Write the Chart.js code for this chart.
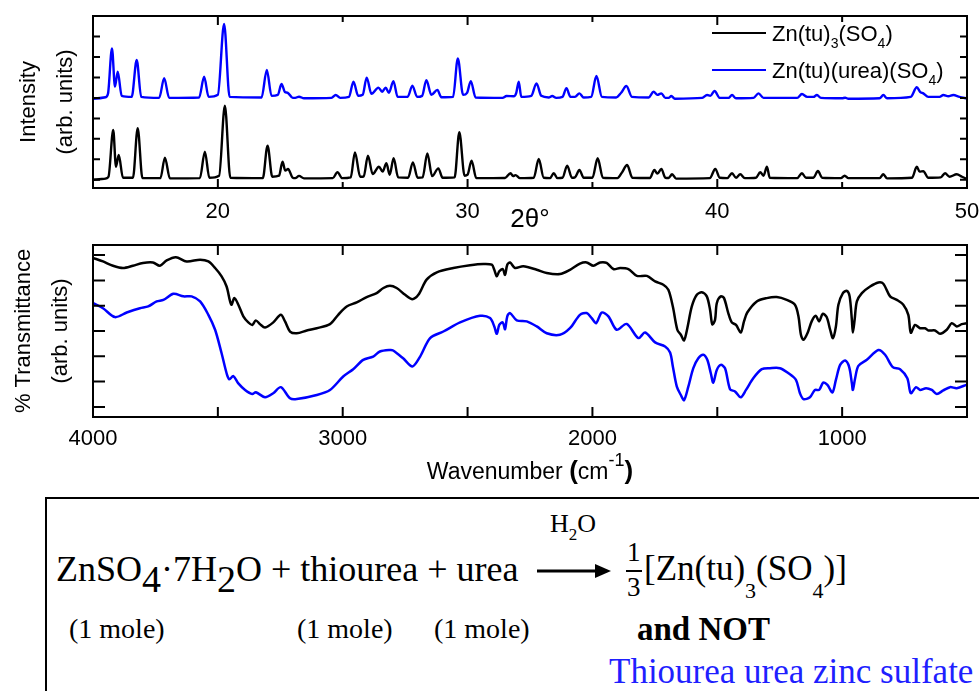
<!DOCTYPE html>
<html>
<head>
<meta charset="utf-8">
<script src="https://cdn.jsdelivr.net/npm/chart.js@4.4.1/dist/chart.umd.min.js"></script>
<style>
  html, body { margin: 0; padding: 0; background: #fff; }
  body { width: 979px; height: 691px; position: relative; overflow: hidden; font-family: 'Liberation Sans', Arial, sans-serif; }
  canvas { position: absolute; left: 0; }
  #xrdChart { top: 0; }
  #irChart { top: 230px; }
  .abs { position: absolute; white-space: nowrap; }
  .legend-line { position: absolute; height: 2px; width: 54px; }
  .legend-text { font-size: 22px; line-height: 22px; color: #000; }
  .legend-text sub { font-size: 14px; vertical-align: baseline; position: relative; top: 7px; }
  #irTitle { left: 93px; width: 874px; top: 457px; text-align: center; font-size: 23px; line-height: 26px; color: #000; }
  #irTitle b { font-size: 26px; }
  #irTitle .sup { font-size: 18px; position: relative; top: -13px; }
  #reaction { position: absolute; left: 45px; top: 497px; width: 1000px; height: 300px; border: 2px solid #000; box-sizing: border-box; }
  .serif { font-family: 'Liberation Serif', 'Times New Roman', serif; color: #000; }
  .bigsub { font-size: 38px; position: relative; top: 11px; }
  .lowsub { font-size: 22px; position: relative; top: 18px; }
</style>
</head>
<body>
<canvas id="xrdChart" width="979" height="240"></canvas>
<canvas id="irChart" width="979" height="260"></canvas>

<div class="legend-line" style="left:712px;top:32px;background:#000"></div>
<div class="abs legend-text" style="left:772px;top:23px">Zn(tu)<sub>3</sub>(SO<sub>4</sub>)</div>
<div class="legend-line" style="left:712px;top:69px;background:#0000ff"></div>
<div class="abs legend-text" style="left:772px;top:60px">Zn(tu)(urea)(SO<sub>4</sub>)</div>

<div id="irTitle" class="abs">Wavenumber <b>(</b>cm<span class="sup">-1</span><b>)</b></div>

<div id="reaction"></div>
<div class="abs serif" style="left:550px;top:511px;font-size:26px;line-height:26px">H<span style="font-size:17px;position:relative;top:8px">2</span>O</div>
<div class="abs serif" style="left:56px;top:550px;font-size:36px;line-height:36px">ZnSO<span class="bigsub">4</span>·7H<span class="bigsub">2</span>O + thiourea + urea</div>
<svg class="abs" style="left:535px;top:562px" width="78" height="18">
  <line x1="2" y1="9" x2="62" y2="9" stroke="#000" stroke-width="3"/>
  <polygon points="60,2 76,9 60,16" fill="#000"/>
</svg>
<div class="abs serif" style="left:627px;top:539px;font-size:27px;line-height:27px">1</div>
<div class="abs" style="left:626px;top:570px;width:16px;height:2px;background:#000"></div>
<div class="abs serif" style="left:627px;top:574px;font-size:27px;line-height:27px">3</div>
<div class="abs serif" style="left:644px;top:551px;font-size:35px;line-height:35px">[Zn(tu)<span class="lowsub">3</span>(SO<span class="lowsub">4</span>)]</div>
<div class="abs serif" style="left:69px;top:615px;font-size:28px;line-height:28px">(1 mole)</div>
<div class="abs serif" style="left:297px;top:615px;font-size:28px;line-height:28px">(1 mole)</div>
<div class="abs serif" style="left:434px;top:615px;font-size:28px;line-height:28px">(1 mole)</div>
<div class="abs serif" style="left:637px;top:613px;font-size:33px;line-height:33px;font-weight:bold">and NOT</div>
<div class="abs serif" style="left:609px;top:654px;font-size:35px;line-height:35px;color:#1f1fff">Thiourea urea zinc sulfate</div>

<script>
const seriesLabels = ['Zn(tu)3(SO4)', 'Zn(tu)(urea)(SO4)'];

const xrdTicks = [20, 25, 30, 35, 40, 45, 50];
const xrdYTicks = [4, 14, 24, 34, 44, 54, 64, 74, 84];
const irTicks = [4000, 3500, 3000, 2500, 2000, 1500, 1000, 500];
const irYTicks = [4, 14, 24, 34, 44, 54, 64];

// [2theta, intensity]
const xrdTu3 = [
  [15.0, 4.0], [15.5, 4.6], [15.62, 5.5], [15.81, 28.3], [15.92, 10.4], [16.03, 16.1], [16.2, 5.0],
  [16.6, 5.0], [16.79, 29.2], [16.98, 4.8], [17.7, 4.8], [17.88, 14.8], [18.08, 4.7], [19.28, 4.8],
  [19.48, 17.7], [19.66, 5.0], [20.05, 6.0], [20.28, 40.2], [20.5, 5.0], [21.8, 4.8], [21.99, 20.7],
  [22.18, 5.5], [22.45, 6.0], [22.59, 12.8], [22.7, 8.5], [22.81, 9.3], [23.0, 5.0], [23.1, 4.8],
  [23.25, 5.9], [23.45, 4.7], [24.6, 4.8], [24.79, 7.7], [24.98, 4.8], [25.32, 5.2], [25.49, 17.4],
  [25.7, 5.5], [25.84, 5.6], [26.01, 15.8], [26.2, 6.8], [26.45, 10.4], [26.6, 8.0], [26.75, 12.1],
  [26.88, 6.5], [27.04, 14.5], [27.22, 5.2], [27.62, 5.0], [27.81, 12.5], [28.0, 5.0], [28.2, 5.2],
  [28.39, 16.9], [28.58, 5.8], [28.83, 9.6], [29.0, 5.0], [29.48, 5.2], [29.67, 27.2], [29.88, 6.0],
  [30.0, 6.5], [30.16, 13.3], [30.35, 4.8], [31.5, 4.9], [31.72, 7.2], [31.82, 5.8], [31.92, 6.3],
  [32.1, 4.8], [32.65, 5.0], [32.85, 14.2], [33.05, 5.0], [33.3, 4.8], [33.45, 7.2], [33.6, 4.8],
  [33.8, 5.0], [33.99, 10.9], [34.18, 5.0], [34.3, 5.2], [34.48, 8.8], [34.65, 5.0], [35.0, 5.0],
  [35.21, 14.5], [35.42, 5.0], [36.0, 4.8], [36.18, 7.5], [36.39, 11.2], [36.6, 5.0], [37.3, 4.9],
  [37.48, 8.8], [37.6, 7.0], [37.76, 9.3], [37.92, 5.0], [38.05, 4.9], [38.19, 6.7], [38.35, 4.6],
  [39.7, 4.8], [39.92, 9.3], [40.1, 5.0], [40.4, 4.8], [40.59, 7.2], [40.75, 5.0], [40.92, 6.7],
  [41.1, 4.8], [41.55, 5.0], [41.72, 7.7], [41.85, 6.0], [41.99, 10.4], [42.1, 5.0], [43.2, 4.8],
  [43.39, 7.2], [43.55, 5.0], [43.85, 5.0], [44.03, 8.3], [44.2, 5.0], [44.95, 4.8], [45.1, 6.0],
  [45.25, 4.8], [46.5, 4.8], [46.65, 6.7], [46.8, 4.7], [47.8, 5.0], [47.99, 10.4], [48.1, 8.0],
  [48.25, 8.2], [48.45, 5.0], [48.95, 5.2], [49.12, 7.2], [49.3, 5.5], [49.59, 6.7], [49.8, 5.5],
  [50.0, 4.4]
];

const xrdTuUrea = [
  [15.0, 43.6], [15.5, 44.3], [15.6, 46.0], [15.76, 68.2], [15.88, 49.5], [15.99, 56.8], [16.15, 45.0],
  [16.55, 44.5], [16.75, 62.5], [16.93, 44.5], [17.65, 44.0], [17.85, 53.6], [18.05, 44.0], [19.25, 44.2],
  [19.45, 54.3], [19.63, 44.5], [20.0, 45.5], [20.25, 80.1], [20.47, 44.5], [21.75, 44.2], [21.96, 57.6],
  [22.15, 45.0], [22.4, 45.5], [22.55, 50.8], [22.68, 47.0], [22.8, 46.5], [23.0, 44.0], [23.1, 44.0],
  [23.25, 44.6], [23.45, 43.8], [24.55, 44.0], [24.72, 45.4], [24.9, 44.0], [25.25, 44.5], [25.43, 51.9],
  [25.62, 45.0], [25.8, 45.5], [25.96, 53.9], [26.15, 46.0], [26.43, 49.0], [26.58, 47.0], [26.72, 49.0],
  [26.85, 46.5], [27.03, 52.2], [27.2, 44.5], [27.6, 44.5], [27.79, 50.0], [27.98, 44.5], [28.18, 45.0],
  [28.35, 52.7], [28.55, 45.5], [28.79, 47.9], [28.95, 44.3], [29.42, 44.5], [29.61, 63.3], [29.82, 45.5],
  [29.98, 46.5], [30.13, 52.2], [30.32, 44.2], [31.4, 44.0], [31.56, 44.9], [31.85, 44.8], [31.95, 46.5],
  [32.05, 51.9], [32.15, 44.5], [32.55, 45.0], [32.76, 51.1], [32.95, 45.0], [33.25, 44.2], [33.39, 44.9],
  [33.55, 44.0], [33.8, 44.5], [33.96, 48.7], [34.12, 44.5], [34.3, 44.5], [34.48, 46.2], [34.65, 44.2],
  [34.95, 44.5], [35.16, 54.7], [35.38, 44.5], [35.95, 44.2], [36.15, 46.5], [36.36, 49.8], [36.58, 44.5],
  [37.25, 44.2], [37.45, 47.0], [37.6, 45.5], [37.76, 46.2], [37.92, 44.0], [38.05, 44.0], [38.16, 44.9],
  [38.3, 43.6], [39.4, 44.0], [39.59, 45.4], [39.72, 45.0], [39.89, 47.4], [40.1, 44.0], [40.45, 44.0],
  [40.59, 45.4], [40.75, 43.8], [41.45, 44.0], [41.65, 46.2], [41.85, 44.0], [43.2, 44.0], [43.39, 45.9],
  [43.6, 44.5], [43.85, 44.5], [43.99, 45.4], [44.15, 44.0], [45.0, 43.8], [45.12, 44.1], [45.25, 43.6],
  [46.5, 43.8], [46.65, 45.4], [46.8, 43.8], [47.75, 44.5], [47.99, 49.2], [48.12, 47.0], [48.25, 46.2],
  [48.45, 44.5], [48.9, 44.5], [49.05, 45.4], [49.25, 44.8], [49.45, 45.4], [49.7, 44.5], [50.0, 43.7]
];

// [wavenumber, transmittance]
const irTu3 = [
  [4000, 62.9], [3960, 61.5], [3920, 59.8], [3880, 58.9], [3840, 59.8], [3800, 60.9], [3760, 61.1],
  [3732, 59.8], [3705, 61.9], [3668, 63.2], [3625, 61.5], [3571, 62.2], [3538, 61.5], [3511, 58.9],
  [3485, 55.6], [3465, 51.6], [3451, 45.7], [3445, 44.4], [3434, 47.0], [3418, 44.4], [3398, 39.8],
  [3378, 37.4], [3362, 36.4], [3348, 38.2], [3331, 36.7], [3311, 35.4], [3278, 37.4], [3248, 40.4],
  [3231, 37.8], [3211, 33.8], [3184, 33.1], [3144, 34.2], [3104, 35.1], [3051, 36.7], [3018, 40.4],
  [2984, 43.7], [2944, 45.3], [2904, 47.4], [2864, 49.0], [2837, 51.0], [2811, 51.9], [2784, 51.0],
  [2750, 48.3], [2721, 46.6], [2697, 48.3], [2664, 54.3], [2623, 57.2], [2557, 58.9], [2490, 60.0],
  [2437, 60.5], [2403, 60.2], [2393, 58.2], [2383, 55.6], [2373, 57.6], [2359, 58.5], [2350, 56.2],
  [2341, 60.2], [2330, 61.1], [2310, 58.9], [2277, 59.6], [2223, 58.2], [2183, 56.9], [2130, 56.5],
  [2090, 58.2], [2050, 60.6], [2023, 61.1], [1996, 59.8], [1969, 61.1], [1943, 60.9], [1916, 58.5],
  [1889, 58.9], [1856, 58.5], [1822, 55.8], [1782, 55.8], [1749, 53.6], [1716, 52.3], [1696, 50.3],
  [1678, 43.7], [1660, 34.5], [1646, 32.5], [1633, 30.3], [1620, 35.1], [1602, 43.7], [1582, 48.3],
  [1562, 49.3], [1542, 47.7], [1529, 42.4], [1520, 36.6], [1509, 38.4], [1502, 45.0], [1486, 47.7],
  [1473, 47.0], [1456, 41.1], [1442, 37.4], [1425, 36.4], [1406, 33.4], [1393, 37.8], [1380, 41.3],
  [1342, 45.7], [1302, 47.0], [1262, 47.4], [1222, 46.3], [1189, 44.4], [1175, 39.8], [1165, 32.5],
  [1155, 30.5], [1139, 33.1], [1122, 37.8], [1106, 40.0], [1092, 37.8], [1078, 40.8], [1062, 39.5],
  [1048, 34.5], [1037, 31.2], [1025, 35.8], [1015, 44.4], [997, 49.0], [981, 49.9], [970, 47.7],
  [961, 38.4], [957, 33.4], [950, 38.4], [941, 45.7], [921, 49.0], [888, 51.6], [855, 53.2],
  [835, 52.7], [808, 47.7], [781, 46.3], [755, 44.4], [735, 40.4], [725, 33.3], [708, 36.4],
  [688, 35.1], [668, 35.1], [654, 34.2], [628, 34.2], [608, 32.9], [581, 34.5], [561, 37.1],
  [541, 35.8], [521, 36.7], [500, 37.1]
];

const irTuUrea = [
  [4000, 45.0], [3960, 43.0], [3912, 39.5], [3865, 41.3], [3812, 43.0], [3779, 43.7], [3745, 45.7],
  [3718, 46.3], [3678, 48.7], [3638, 47.7], [3605, 47.7], [3571, 45.7], [3538, 40.4], [3511, 34.5],
  [3485, 25.2], [3465, 17.3], [3454, 14.9], [3438, 16.2], [3418, 13.3], [3391, 10.7], [3362, 9.1],
  [3348, 9.8], [3311, 7.8], [3278, 9.4], [3248, 11.8], [3211, 7.4], [3184, 7.1], [3104, 8.7],
  [3051, 10.7], [2998, 16.0], [2958, 18.9], [2918, 22.6], [2878, 23.9], [2851, 25.9], [2811, 26.5],
  [2798, 26.3], [2758, 23.2], [2721, 20.0], [2690, 23.9], [2650, 31.2], [2597, 33.8], [2530, 37.4],
  [2450, 40.0], [2410, 39.1], [2393, 35.8], [2383, 32.9], [2373, 36.4], [2359, 37.4], [2350, 34.7],
  [2341, 39.8], [2330, 41.1], [2303, 38.2], [2263, 37.8], [2223, 35.8], [2183, 33.1], [2130, 32.5],
  [2090, 35.1], [2050, 40.4], [2023, 41.1], [2003, 39.1], [1985, 37.1], [1963, 41.3], [1936, 39.8],
  [1903, 34.5], [1863, 36.8], [1816, 31.2], [1789, 33.4], [1749, 29.5], [1709, 27.9], [1689, 25.5],
  [1678, 20.0], [1662, 12.0], [1646, 8.7], [1633, 6.7], [1616, 12.0], [1596, 19.3], [1576, 23.2],
  [1556, 24.6], [1540, 22.6], [1526, 17.3], [1516, 13.6], [1502, 18.6], [1486, 20.6], [1469, 19.3],
  [1449, 11.0], [1429, 10.1], [1406, 7.8], [1385, 10.7], [1356, 15.3], [1322, 18.9], [1289, 19.3],
  [1249, 19.3], [1215, 17.3], [1185, 14.7], [1169, 9.4], [1155, 7.1], [1129, 7.8], [1109, 10.7],
  [1092, 10.7], [1076, 13.6], [1059, 12.7], [1039, 9.7], [1025, 14.7], [1008, 20.6], [988, 22.3],
  [972, 19.8], [961, 13.3], [957, 10.7], [948, 15.3], [935, 20.2], [901, 22.6], [855, 26.5],
  [828, 24.6], [797, 19.7], [768, 18.9], [739, 15.3], [725, 9.4], [704, 11.8], [688, 10.7],
  [664, 11.4], [641, 10.7], [621, 9.1], [595, 10.5], [568, 11.8], [541, 11.4], [503, 12.7]
];

Chart.defaults.font.family = "'Liberation Sans', Arial, sans-serif";
Chart.defaults.color = '#000';

const toPoints = list => list.map(p => ({ x: p[0], y: p[1] }));

// closed frame with inward ticks on all four sides
const frameTicks = {
  id: 'frameTicks',
  afterDatasetsDraw(chart, args, opts) {
    const { ctx, chartArea: a, scales } = chart;
    ctx.save();
    ctx.strokeStyle = '#000';
    ctx.lineWidth = 2;
    ctx.beginPath();
    scales.x.ticks.forEach(t => {
      const px = scales.x.getPixelForValue(t.value);
      const len = t.value % opts.majorEvery === 0 ? opts.xMajor : opts.xMinor;
      ctx.moveTo(px, a.top);
      ctx.lineTo(px, a.top + len);
      ctx.moveTo(px, a.bottom);
      ctx.lineTo(px, a.bottom - len);
    });
    scales.y.ticks.forEach(t => {
      const py = scales.y.getPixelForValue(t.value);
      ctx.moveTo(a.left, py);
      ctx.lineTo(a.left + opts.yLen, py);
      ctx.moveTo(a.right, py);
      ctx.lineTo(a.right - opts.yLen, py);
    });
    ctx.stroke();
    ctx.strokeRect(a.left, a.top, a.right - a.left, a.bottom - a.top);
    ctx.restore();
  }
};

function makeChart(id, cfg) {
  return new Chart(document.getElementById(id), {
    type: 'line',
    data: {
      datasets: [
        { label: seriesLabels[0], data: toPoints(cfg.black), borderColor: '#000', borderWidth: cfg.lineWidth },
        { label: seriesLabels[1], data: toPoints(cfg.blue), borderColor: '#0000ff', borderWidth: cfg.lineWidth }
      ]
    },
    options: {
      responsive: false,
      animation: false,
      devicePixelRatio: 1,
      layout: { padding: { top: cfg.padTop, right: 12, left: 0, bottom: 0 } },
      elements: {
        point: { radius: 0 },
        line: { tension: cfg.tension, cubicInterpolationMode: cfg.interp }
      },
      plugins: {
        legend: { display: false },
        tooltip: { enabled: false },
        frameTicks: cfg.tickStyle
      },
      scales: {
        x: {
          type: 'linear',
          min: cfg.xMin,
          max: cfg.xMax,
          reverse: cfg.reverse,
          grid: { display: false, drawTicks: false },
          border: { display: false },
          afterBuildTicks: s => { s.ticks = cfg.xTicks.map(v => ({ value: v })); },
          afterFit: s => {
            s.height = cfg.xHeight;
            s.paddingLeft = 0;
            s.paddingRight = 0;
          },
          ticks: {
            padding: cfg.labelPad,
            autoSkip: false,
            maxRotation: 0,
            font: { size: 22 },
            callback: v => (v % cfg.labelEvery === 0 ? v : '')
          },
          title: cfg.xTitle
        },
        y: {
          min: 0,
          max: cfg.yMax,
          grid: { display: false, drawTicks: false },
          border: { display: false },
          ticks: { display: false },
          afterBuildTicks: s => { s.ticks = cfg.yTicks.map(v => ({ value: v })); },
          afterFit: s => { s.width = 93; },
          title: {
            display: true,
            text: cfg.yTitle,
            font: { size: 22, lineHeight: 1.68 },
            padding: { top: cfg.yTitlePad, bottom: 0 }
          }
        }
      }
    },
    plugins: [frameTicks]
  });
}

makeChart('xrdChart', {
  black: xrdTu3,
  blue: xrdTuUrea,
  lineWidth: 2.4,
  tension: 0.4,
  interp: 'monotone',
  padTop: 16,
  xMin: 15,
  xMax: 50,
  reverse: false,
  xTicks: xrdTicks,
  xHeight: 52,
  labelPad: 11,
  labelEvery: 10,
  xTitle: { display: true, text: '2θ°', font: { size: 26 }, padding: { top: 0, bottom: 5 } },
  yMax: 84,
  yTicks: xrdYTicks,
  yTitle: ['Intensity', '(arb. units)'],
  yTitlePad: 10,
  tickStyle: { majorEvery: 10, xMajor: 9, xMinor: 6, yLen: 7 }
});

makeChart('irChart', {
  black: irTu3,
  blue: irTuUrea,
  lineWidth: 2.5,
  tension: 0.3,
  interp: 'default',
  padTop: 15,
  xMin: 500,
  xMax: 4000,
  reverse: true,
  xTicks: irTicks,
  xHeight: 73,
  labelPad: 9,
  labelEvery: 1000,
  xTitle: { display: false },
  yMax: 68,
  yTicks: irYTicks,
  yTitle: ['% Transmittance', '(arb. units)'],
  yTitlePad: 5,
  tickStyle: { majorEvery: 500, xMajor: 10, xMinor: 10, yLen: 12 }
});
</script>
</body>
</html>
